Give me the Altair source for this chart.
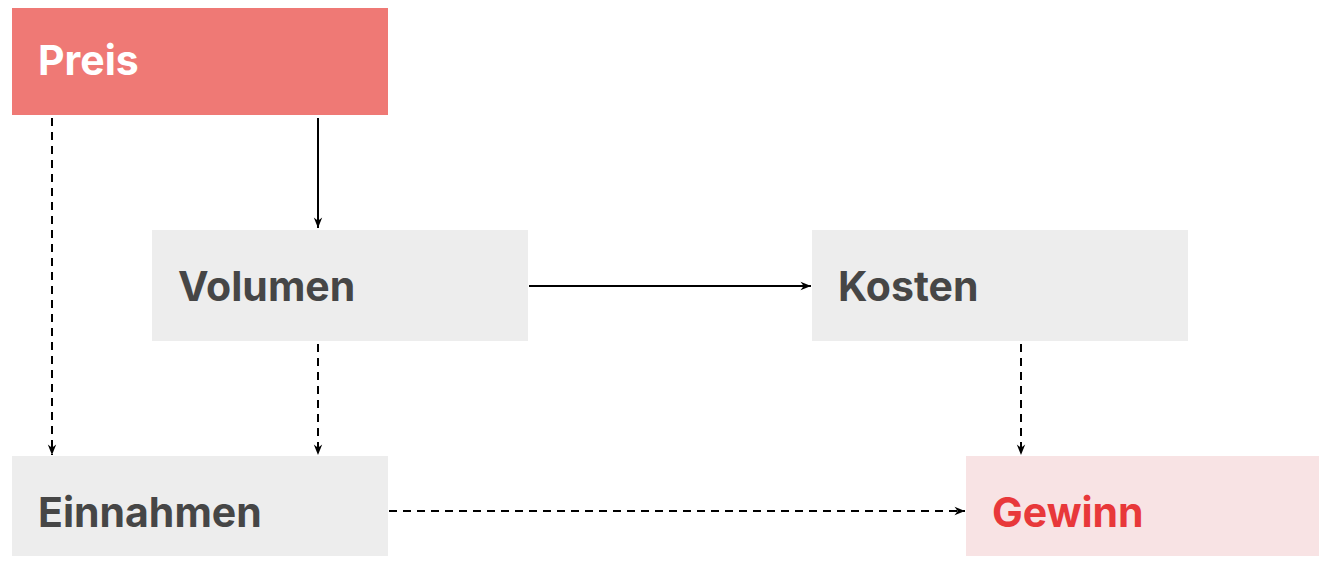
import altair as alt
import pandas as pd

# --- diagram data (page pixel layout of the reference) ---
node_names = ["Preis", "Volumen", "Kosten", "Einnahmen", "Gewinn"]
node_x0 = [12, 152, 812, 12, 966]
node_x1 = [388, 528, 1188, 388, 1342]
node_y0 = [4, 230, 230, 456, 456]
node_y1 = [115, 341, 341, 567, 567]
node_kind = ["key", "plain", "plain", "plain", "result"]

edge_from = ["Preis", "Preis", "Volumen", "Volumen", "Kosten", "Einnahmen"]
edge_to = ["Einnahmen", "Volumen", "Kosten", "Einnahmen", "Gewinn", "Gewinn"]
edge_style = ["dashed", "solid", "solid", "dashed", "dashed", "dashed"]
edge_x1 = [52, 318, 529, 318, 1021, 389]
edge_y1 = [118, 118, 286, 344, 344, 511]
edge_x2 = [52, 318, 811, 318, 1021, 965]
edge_y2 = [455, 228, 286, 455, 455, 511]
edge_dir = ["down", "down", "right", "down", "down", "right"]

W, H = 1311, 548
OX, OY = 8, 8

nodes = pd.DataFrame({
    "name": node_names, "x0": node_x0, "x1": node_x1,
    "y0": node_y0, "y1": node_y1, "kind": node_kind,
})
nodes["yc"] = (nodes["y0"] + nodes["y1"]) / 2

edges = pd.DataFrame({
    "src": edge_from, "dst": edge_to, "style": edge_style,
    "x1": edge_x1, "y1": edge_y1, "x2": edge_x2, "y2": edge_y2,
    "dir": edge_dir,
})
edges["angle"] = edges["dir"].map({"right": 0, "down": 90})

xs = alt.Scale(domain=[OX, OX + W], nice=False, zero=False)
ys = alt.Scale(domain=[OY, OY + H], nice=False, zero=False, reverse=True)

kinds = ["key", "plain", "result"]
fill_scale = alt.Scale(domain=kinds, range=["#EF7975", "#EDEDED", "#F8E3E4"])
text_scale = alt.Scale(domain=kinds, range=["#FFFFFF", "#464646", "#E8383A"])

boxes = alt.Chart(nodes).mark_rect().encode(
    x=alt.X("x0:Q", scale=xs, axis=None),
    x2="x1:Q",
    y=alt.Y("y0:Q", scale=ys, axis=None),
    y2="y1:Q",
    fill=alt.Fill("kind:N", scale=fill_scale, legend=None),
)

labels = alt.Chart(nodes).mark_text(
    align="left", baseline="alphabetic", dx=26, dy=15,
    font="Inter", fontWeight="bold", fontSize=41,
).encode(
    x=alt.X("x0:Q", scale=xs, axis=None),
    y=alt.Y("yc:Q", scale=ys, axis=None),
    text="name:N",
    color=alt.Color("kind:N", scale=text_scale, legend=None),
)

lines = alt.Chart(edges).mark_rule(strokeWidth=2, color="#000000").encode(
    x=alt.X("x1:Q", scale=xs, axis=None),
    y=alt.Y("y1:Q", scale=ys, axis=None),
    x2="x2:Q",
    y2="y2:Q",
    strokeDash=alt.StrokeDash(
        "style:N",
        scale=alt.Scale(domain=["solid", "dashed"], range=[[1, 0], [8, 6]]),
        legend=None,
    ),
)

arrow_path = "M0,0 L-1,-0.4 L-0.7,0 L-1,0.4 Z"
heads = alt.Chart(edges).mark_point(
    shape=arrow_path, size=440, filled=True, color="#000000", opacity=1,
    strokeWidth=0.5,
).encode(
    x=alt.X("x2:Q", scale=xs, axis=None),
    y=alt.Y("y2:Q", scale=ys, axis=None),
    angle=alt.Angle("angle:Q", scale=None),
)

chart = alt.layer(boxes, lines, heads, labels).properties(
    width=W, height=H, padding=0,
    autosize=alt.AutoSizeParams(type="none"),
).configure_view(stroke=None)

chart.save("out.html", embed_options={"renderer": "svg", "actions": False})
